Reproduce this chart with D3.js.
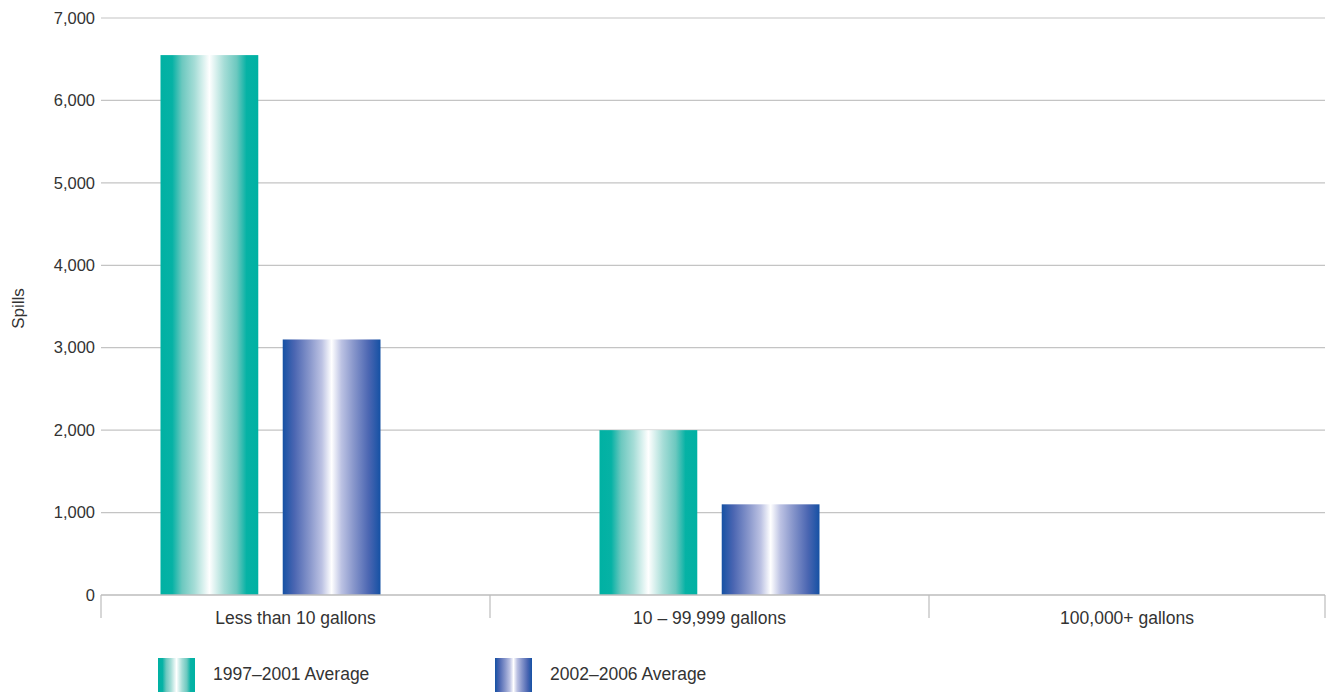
<!DOCTYPE html>
<html><head><meta charset="utf-8">
<script src="https://cdn.jsdelivr.net/npm/d3@7"></script>
<style>body{margin:0;background:#fff}svg{display:block}text{font-family:"Liberation Sans",Arial,sans-serif;fill:#333}</style>
</head><body><svg id="c" width="1332" height="692"></svg>
<script>
const categories = ["Less than 10 gallons", "10 \u2013 99,999 gallons", "100,000+ gallons"];
const seriesNames = ["1997\u20132001 Average", "2002\u20132006 Average"];
const avg1997 = [6550, 2000, 0];
const avg2002 = [3100, 1100, 0];
const yTicks = [0, 1000, 2000, 3000, 4000, 5000, 6000, 7000];
const yLabel = "Spills";

(function(){
const svg = d3.select("#c");
const plotL = 101, plotR = 1325, plotTop = 18, base = 595;

const defs = svg.append("defs");
function grad(id, stops){
  const g = defs.append("linearGradient").attr("id", id).attr("x1","0%").attr("x2","100%").attr("y1","0%").attr("y2","0%");
  stops.forEach(([o,c]) => g.append("stop").attr("offset", o).attr("stop-color", c));
}
grad("gTeal", [[0,"#00b1a3"],[0.12,"#06b2a5"],[0.22,"#6cc8bf"],[0.35,"#a6ddd7"],[0.5,"#ffffff"],[0.65,"#a6ddd7"],[0.78,"#6cc8bf"],[0.88,"#06b2a5"],[1,"#00b1a3"]]);
grad("gBlue", [[0,"#1551a4"],[0.12,"#4b66b2"],[0.28,"#8a98cc"],[0.4,"#bcc2e3"],[0.5,"#ffffff"],[0.6,"#bcc2e3"],[0.72,"#8a98cc"],[0.88,"#4b66b2"],[1,"#1551a4"]]);
const fills = ["url(#gTeal)", "url(#gBlue)"];

const y = d3.scaleLinear().domain([0, 7000]).range([base, plotTop]);
const x = d3.scaleBand().domain(categories).range([51, 1368]).paddingInner(0).paddingOuter(0);
const xs = d3.scaleBand().domain([0,1]).range([x.bandwidth()/2 - 110, x.bandwidth()/2 + 110]).paddingInner(0.2);

svg.append("g").selectAll("line").data(yTicks.filter(d=>d>0)).join("line")
  .attr("x1", plotL).attr("x2", plotR).attr("y1", d=>y(d)).attr("y2", d=>y(d))
  .attr("stroke", "#c4c4c4").attr("stroke-width", 1.2);

svg.append("g").selectAll("text").data(yTicks).join("text")
  .attr("x", 95).attr("y", d=>y(d)).attr("dy","0.35em").attr("text-anchor","end")
  .attr("font-size", 16.5).text(d=>d3.format(",")(d));

svg.append("text").attr("transform", `translate(24,${(plotTop+base)/2+2}) rotate(-90)`)
  .attr("text-anchor","middle").attr("font-size",17).text(yLabel);

const data = [avg1997, avg2002];
const g = svg.append("g");
categories.forEach((c,i) => {
  data.forEach((s,j) => {
    if (s[i] <= 0) return;
    g.append("rect").attr("x", x(c) + xs(j)).attr("width", xs.bandwidth())
      .attr("y", y(s[i])).attr("height", base - y(s[i])).attr("fill", fills[j]);
  });
});

svg.append("line").attr("x1", plotL).attr("x2", plotR).attr("y1", base).attr("y2", base)
  .attr("stroke", "#bdbdbd").attr("stroke-width", 1.5);
const seps = [plotL].concat(categories.slice(1).map(c => x(c))).concat([plotR]);
svg.append("g").selectAll("line").data(seps).join("line")
  .attr("x1", d=>d).attr("x2", d=>d).attr("y1", base).attr("y2", base+23)
  .attr("stroke", "#bdbdbd").attr("stroke-width", 1.2);
svg.append("g").selectAll("text").data(categories).join("text")
  .attr("x", c => (Math.max(x(c), plotL) + Math.min(x(c)+x.bandwidth(), plotR))/2)
  .attr("y", 618).attr("dy","0.35em").attr("text-anchor","middle").attr("font-size",17.5).text(c=>c);

const leg = svg.append("g");
const legX = [158, 495];
seriesNames.forEach((n,j) => {
  leg.append("rect").attr("x", legX[j]).attr("y", 658).attr("width", 37).attr("height", 34).attr("fill", fills[j]);
  leg.append("text").attr("x", legX[j] + 55).attr("y", 674).attr("dy","0.35em").attr("font-size",17.5).text(n);
});
})();
</script></body></html>
